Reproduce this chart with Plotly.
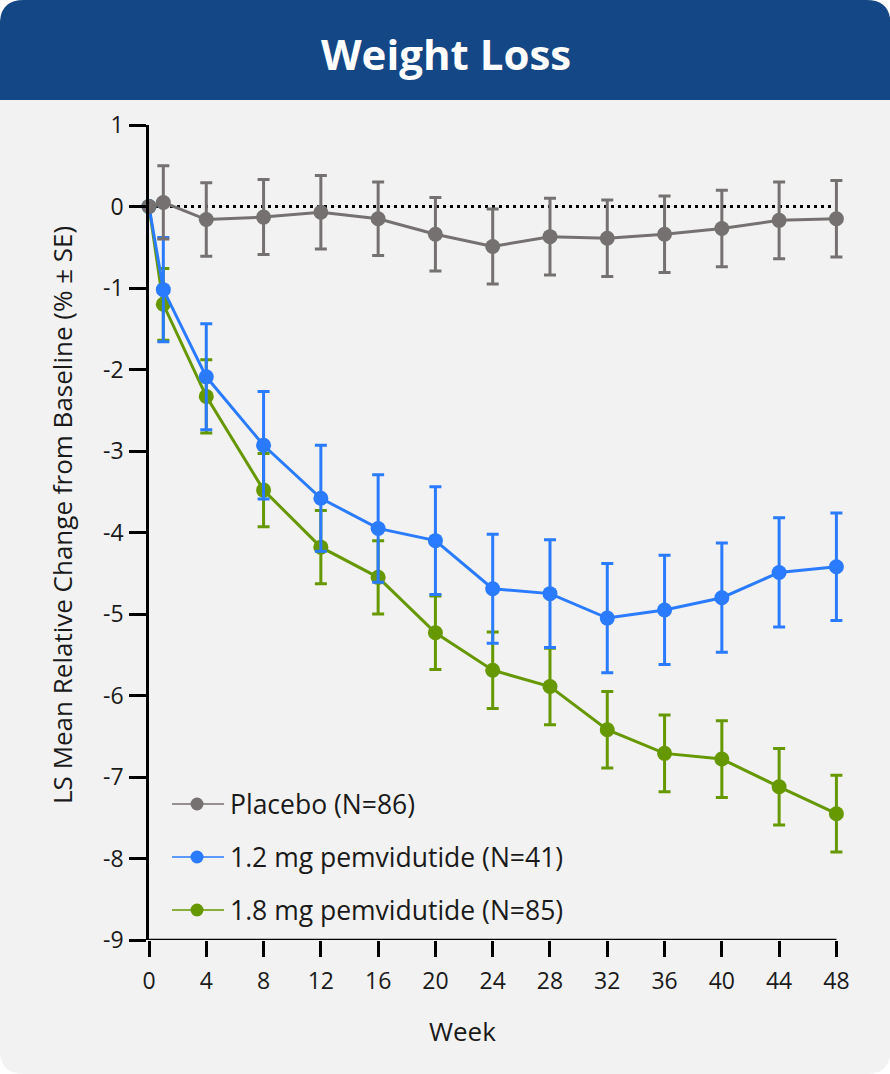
import plotly.graph_objects as go

# ---- data -------------------------------------------------------------
weeks = [0, 1, 4, 8, 12, 16, 20, 24, 28, 32, 36, 40, 44, 48]

placebo = [0, 0.05, -0.16, -0.13, -0.07, -0.15, -0.34, -0.49, -0.37, -0.39, -0.34, -0.27, -0.17, -0.15]
placebo_se = [0, 0.45, 0.45, 0.46, 0.45, 0.45, 0.45, 0.46, 0.47, 0.47, 0.47, 0.47, 0.47, 0.47]

dose12 = [0, -1.02, -2.09, -2.93, -3.58, -3.95, -4.10, -4.69, -4.75, -5.05, -4.95, -4.80, -4.49, -4.42]
dose12_se = [0, 0.64, 0.65, 0.66, 0.65, 0.66, 0.66, 0.67, 0.66, 0.67, 0.67, 0.67, 0.67, 0.66]

dose18 = [0, -1.20, -2.33, -3.48, -4.18, -4.55, -5.23, -5.69, -5.89, -6.42, -6.71, -6.78, -7.12, -7.45]
dose18_se = [0, 0.44, 0.45, 0.45, 0.45, 0.45, 0.45, 0.47, 0.47, 0.47, 0.47, 0.47, 0.47, 0.47]

series_names = ["Placebo (N=86)", "1.2 mg pemvidutide (N=41)", "1.8 mg pemvidutide (N=85)"]
series_colors = ["#767171", "#2a7bff", "#669900"]

x_ticks = list(range(0, 49, 4))
y_ticks = list(range(-9, 2))
y_ticktext = [str(v) for v in y_ticks]  # plain hyphen-minus labels

X_MIN, X_MAX, X_PAD = 0, 48, 0.6   # pad keeps the last error-bar caps unclipped
Y_MIN, Y_MAX = -9, 1

# ---- layout geometry (pixels) ----------------------------------------
W, H = 890, 1074
ML, MT, MB = 149, 125, 134
PX_PER_WEEK = 687 / 48
PW = PX_PER_WEEK * (X_MAX + X_PAD)
MR = W - ML - PW
PH = H - MT - MB

FONT = "Open Sans"
TEXT = "#1a1a1a"


def px(x):
    return (x - ML) / PW


def py(y):
    return (H - MB - y) / PH


def rounded_path(x0, y0, x1, y1, r, tl=True, tr=True, br=True, bl=True):
    pts = []
    pts.append(f"M{px(x0 + (r if tl else 0))},{py(y0)}")
    pts.append(f"L{px(x1 - (r if tr else 0))},{py(y0)}")
    if tr:
        pts.append(f"Q{px(x1)},{py(y0)} {px(x1)},{py(y0 + r)}")
    pts.append(f"L{px(x1)},{py(y1 - (r if br else 0))}")
    if br:
        pts.append(f"Q{px(x1)},{py(y1)} {px(x1 - r)},{py(y1)}")
    pts.append(f"L{px(x0 + (r if bl else 0))},{py(y1)}")
    if bl:
        pts.append(f"Q{px(x0)},{py(y1)} {px(x0)},{py(y1 - r)}")
    pts.append(f"L{px(x0)},{py(y0 + (r if tl else 0))}")
    if tl:
        pts.append(f"Q{px(x0)},{py(y0)} {px(x0 + r)},{py(y0)}")
    pts.append("Z")
    return " ".join(pts)


fig = go.Figure()

# draw order: 1.8 mg, 1.2 mg, placebo on top
for name, vals, se, color in [
    (series_names[2], dose18, dose18_se, series_colors[2]),
    (series_names[1], dose12, dose12_se, series_colors[1]),
    (series_names[0], placebo, placebo_se, series_colors[0]),
]:
    fig.add_trace(go.Scatter(
        x=weeks, y=vals, name=name, mode="lines+markers",
        line=dict(color=color, width=3),
        marker=dict(color=color, size=15),
        error_y=dict(type="data", array=se, visible=True,
                     color=color, thickness=3, width=6),
        cliponaxis=False, showlegend=False,
    ))

shapes = [
    # rounded panel background
    dict(type="path", xref="paper", yref="paper", layer="below",
         path=rounded_path(0, 0, W, H, 24), fillcolor="#f2f2f2", line=dict(width=0)),
    # header band
    dict(type="path", xref="paper", yref="paper", layer="below",
         path=rounded_path(0, 0, W, 100, 24, br=False, bl=False),
         fillcolor="#144785", line=dict(width=0)),
    # reference line at zero change
    dict(type="line", xref="x", yref="y", x0=X_MIN, x1=X_MAX, y0=0, y1=0, layer="below",
         line=dict(color="black", width=3, dash="3px,4px")),
    # x axis baseline, stopping at the last tick
    dict(type="line", xref="x", yref="y", x0=X_MIN, x1=X_MAX, y0=Y_MIN, y1=Y_MIN,
         layer="above", line=dict(color="black", width=2.5)),
]

annotations = [
    dict(text="<b>Weight Loss</b>", xref="paper", yref="paper",
         x=px(W / 2 + 1), y=py(53), xanchor="center", yanchor="middle",
         showarrow=False, font=dict(family=FONT, size=42, color="white")),
    dict(text="Week", xref="paper", yref="paper",
         x=px(462), y=py(1031), xanchor="center", yanchor="middle",
         showarrow=False, font=dict(family=FONT, size=26, color=TEXT)),
    dict(text="LS Mean Relative Change from Baseline (% ± SE)",
         xref="paper", yref="paper", x=px(62), y=py(515), textangle=-90,
         xanchor="center", yanchor="middle", showarrow=False,
         font=dict(family=FONT, size=26, color=TEXT)),
]

# legend entries
legend_rows = [804, 857, 910]
for name, color, yy in zip(series_names, series_colors, legend_rows):
    shapes.append(dict(type="line", xref="paper", yref="paper",
                       x0=px(172), x1=px(224), y0=py(yy), y1=py(yy),
                       line=dict(color=color, width=1.5)))
    shapes.append(dict(type="circle", xref="paper", yref="paper",
                       x0=px(197 - 6.5), x1=px(197 + 6.5),
                       y0=py(yy + 6.5), y1=py(yy - 6.5),
                       fillcolor=color, line=dict(width=0)))
    annotations.append(dict(text=name, xref="paper", yref="paper",
                            x=px(228), y=py(yy), xanchor="left", yanchor="middle",
                            showarrow=False,
                            font=dict(family=FONT, size=26.5, color=TEXT)))

fig.update_layout(
    width=W, height=H,
    margin=dict(l=ML, r=MR, t=MT, b=MB),
    paper_bgcolor="white",
    plot_bgcolor="rgba(0,0,0,0)",
    font=dict(family=FONT, color=TEXT),
    shapes=shapes,
    annotations=annotations,
    xaxis=dict(
        range=[X_MIN, X_MAX + X_PAD], tickvals=x_ticks, ticktext=[str(v) for v in x_ticks],
        showline=False,
        ticks="outside", ticklen=16, tickwidth=2.5, tickcolor="black",
        showgrid=False, zeroline=False, ticklabelstandoff=4,
        tickfont=dict(family=FONT, size=23, color=TEXT),
    ),
    yaxis=dict(
        range=[Y_MIN, Y_MAX], tickvals=y_ticks, ticktext=y_ticktext,
        showline=True, linecolor="black", linewidth=2.5,
        ticks="outside", ticklen=17, tickwidth=2.5, tickcolor="black",
        showgrid=False, zeroline=False, ticklabelstandoff=1,
        tickfont=dict(family=FONT, size=23, color=TEXT),
    ),
)

fig.write_html("out.html")
